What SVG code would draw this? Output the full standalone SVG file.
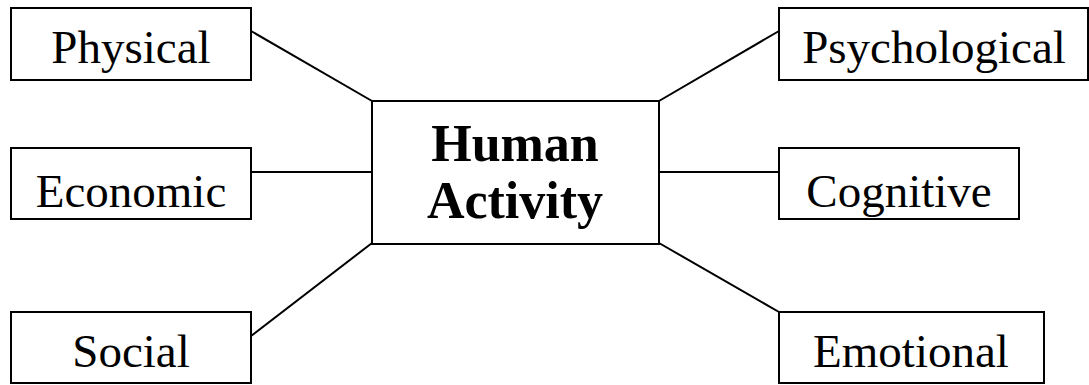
<svg xmlns="http://www.w3.org/2000/svg" width="1089" height="385" viewBox="0 0 1089 385">
<style>
.box{fill:#fff;stroke:#000;stroke-width:2}
.lbl{font-family:"Liberation Serif","Times New Roman",serif;font-size:47px;fill:#000;text-anchor:middle}
.ctr{font-family:"Liberation Serif","Times New Roman",serif;font-size:52px;font-weight:bold;fill:#000;text-anchor:middle}
.conn line{stroke:#000;stroke-width:2}
</style>
<rect width="1089" height="385" fill="#fff"/>
<g id="connectors" class="conn">
<line x1="251" y1="31" x2="372" y2="101"/>
<line x1="251" y1="172" x2="372" y2="172"/>
<line x1="251" y1="336" x2="372" y2="243"/>
<line x1="659" y1="101" x2="779" y2="31"/>
<line x1="659" y1="172" x2="779" y2="172"/>
<line x1="659" y1="243" x2="779" y2="312"/>
</g>
<g id="human-activity">
<rect class="box" x="372" y="101" width="287" height="143"/>
<text class="ctr" x="515" y="161">Human</text>
<text class="ctr" x="515" y="218">Activity</text>
</g>
<g id="physical">
<rect class="box" x="11" y="8" width="240" height="72"/>
<text class="lbl" x="131" y="63">Physical</text>
</g>
<g id="economic">
<rect class="box" x="11" y="148" width="240" height="71"/>
<text class="lbl" x="131" y="207">Economic</text>
</g>
<g id="social">
<rect class="box" x="11" y="312" width="240" height="71"/>
<text class="lbl" x="131" y="367">Social</text>
</g>
<g id="psychological">
<rect class="box" x="779" y="8" width="309" height="72"/>
<text class="lbl" x="934" y="63">Psychological</text>
</g>
<g id="cognitive">
<rect class="box" x="779" y="148" width="240" height="71"/>
<text class="lbl" x="899" y="207">Cognitive</text>
</g>
<g id="emotional">
<rect class="box" x="779" y="312" width="265" height="71"/>
<text class="lbl" x="911" y="367">Emotional</text>
</g>
</svg>
